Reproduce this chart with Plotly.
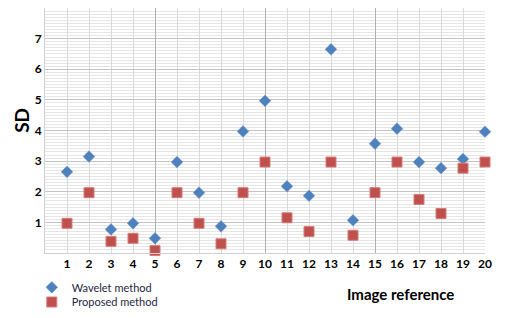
import plotly.graph_objects as go

images = list(range(1, 21))
wavelet = [2.65, 3.15, 0.77, 0.97, 0.48, 2.97, 1.97, 0.87, 3.97, 4.97,
           2.18, 1.87, 6.65, 1.07, 3.57, 4.06, 2.97, 2.77, 3.07, 3.96]
proposed = [0.97, 1.97, 0.38, 0.48, 0.08, 1.97, 0.97, 0.30, 1.97, 2.97,
            1.15, 0.70, 2.97, 0.58, 1.97, 2.97, 1.75, 1.29, 2.77, 2.97]
x_ticks = list(range(1, 21))
y_ticks = list(range(1, 8))

FONT = "Lato"

fig = go.Figure()
fig.add_trace(go.Scatter(
    x=images, y=wavelet, mode="markers", name="Wavelet method",
    marker=dict(symbol="diamond", size=9, color="#4f81bd",
                line=dict(width=0.5, color="#6b97cc")),
    cliponaxis=False, legend="legend",
))
fig.add_trace(go.Scatter(
    x=images, y=proposed, mode="markers", name="Proposed method",
    marker=dict(symbol="square", size=10, color="#c0504d",
                line=dict(width=1, color="#d57d7a")),
    cliponaxis=False, legend="legend2",
))
# overlay axis for darker vertical gridlines every 5
fig.add_trace(go.Scatter(x=[None], y=[None], xaxis="x2", showlegend=False, hoverinfo="skip"))

legend_common = dict(
    xanchor="left", yanchor="middle", orientation="v",
    bgcolor="rgba(0,0,0,0)",
    font=dict(family=FONT, size=11, color="#1f1f3f"),
    itemwidth=30, itemsizing="trace",
)

fig.update_layout(
    width=511, height=318,
    margin=dict(l=45, r=26, t=8, b=65, autoexpand=False),
    paper_bgcolor="white", plot_bgcolor="white",
    font=dict(family=FONT, color="black"),
    xaxis=dict(
        range=[0, 20], tickvals=x_ticks, ticktext=[str(v) for v in x_ticks],
        showgrid=True, gridcolor="#d9d9d9", gridwidth=1,
        zeroline=False, showline=True, linecolor="#d0d0d0",
        ticks="", tickfont=dict(family=FONT, size=12, weight="bold", color="black"),
    ),
    xaxis2=dict(
        range=[0, 20], overlaying="x", tickvals=[5, 10, 15, 20],
        showticklabels=False, showgrid=True, gridcolor="#b0b0b0", gridwidth=1,
        zeroline=False, ticks="", layer="below traces",
    ),
    yaxis=dict(
        range=[0, 8], tickvals=y_ticks, ticktext=[str(v) for v in y_ticks],
        showgrid=True, gridcolor="#c4c4c4", gridwidth=1,
        minor=dict(dtick=0.1, tick0=0, showgrid=True, gridcolor="#e6e6e6", gridwidth=1),
        zeroline=False, showline=True, linecolor="#d0d0d0",
        ticks="", tickfont=dict(family=FONT, size=12, weight="bold", color="black"),
    ),
    legend=dict(x=-0.03, y=-0.14, **legend_common),
    legend2=dict(x=-0.03, y=-0.20, **legend_common),
    showlegend=True,
    annotations=[
        dict(text="SD", x=-0.052, y=0.54, xref="paper", yref="paper",
             showarrow=False, textangle=-90,
             font=dict(family=FONT, size=19, weight="bold", color="black"),
             xanchor="center", yanchor="middle"),
        dict(text="Image reference", x=0.807, y=-0.167, xref="paper", yref="paper",
             showarrow=False,
             font=dict(family=FONT, size=15, weight="bold", color="black"),
             xanchor="center", yanchor="middle"),
    ],
)

fig.write_html("out.html")
